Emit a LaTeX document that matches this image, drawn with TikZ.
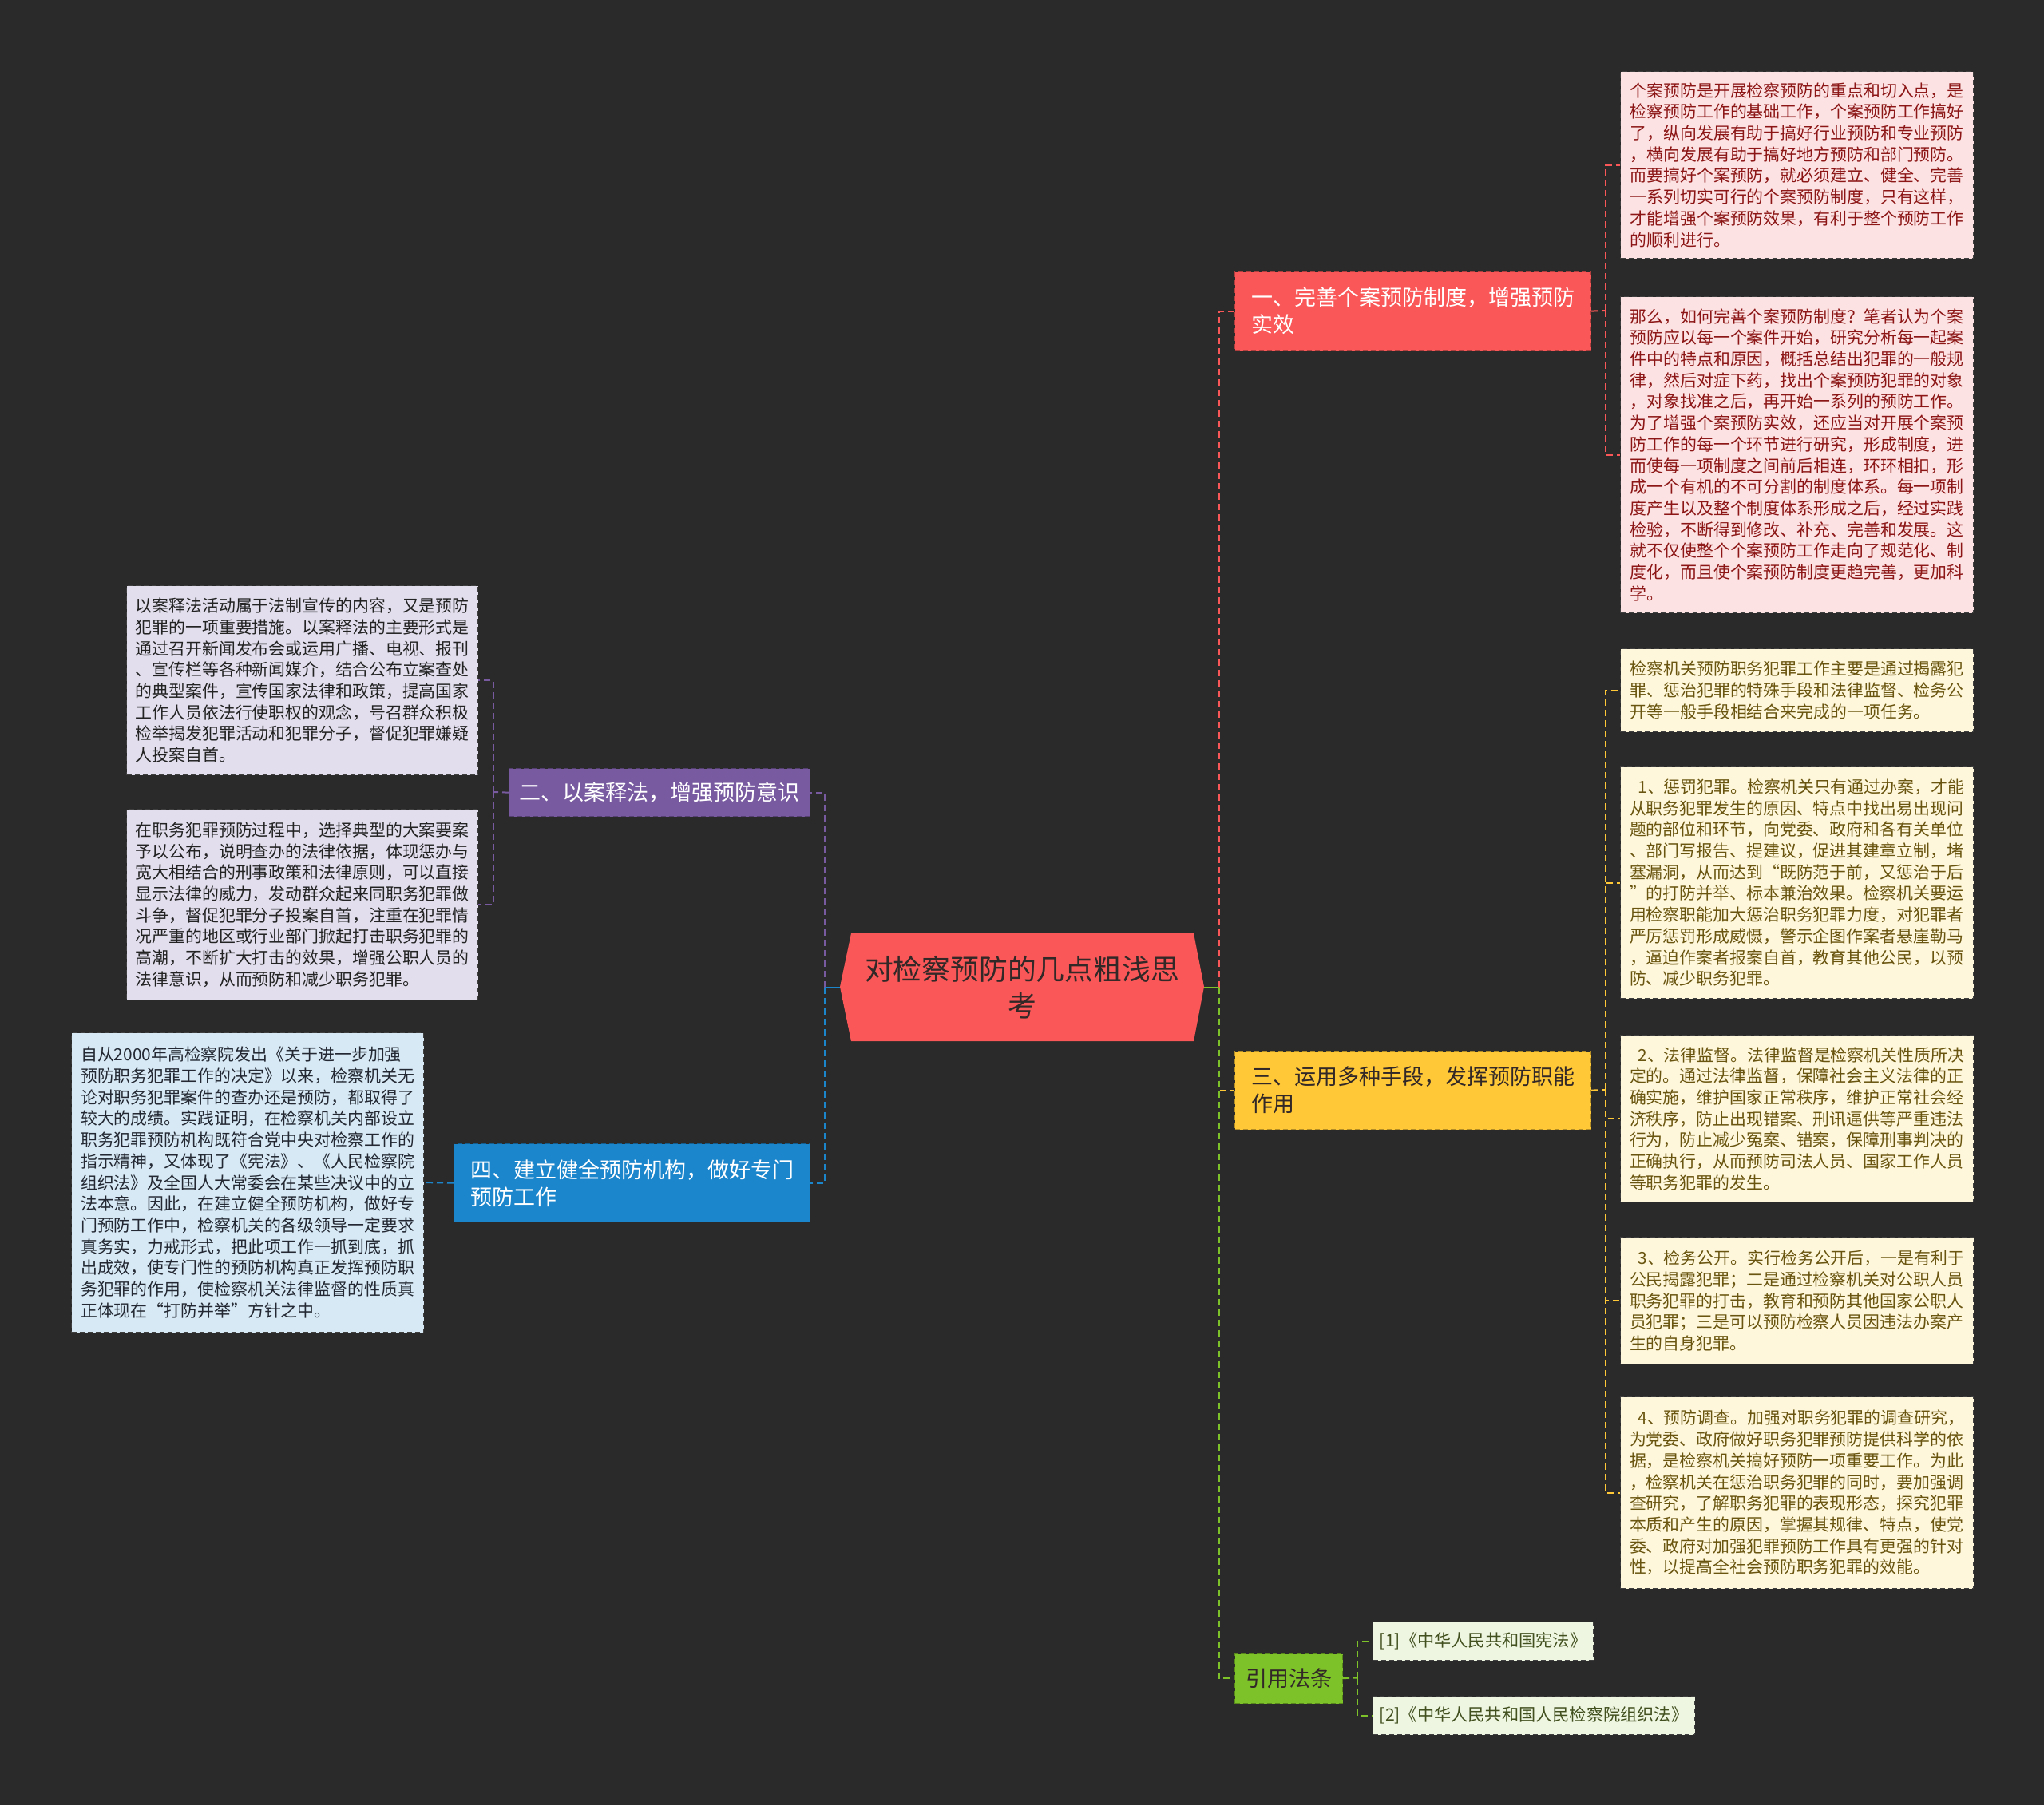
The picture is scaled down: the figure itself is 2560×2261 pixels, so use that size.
\documentclass[tikz,border=0pt]{standalone}
\usepackage{fontspec}
\setmainfont{Noto Sans CJK SC}
\definecolor{bg}{RGB}{42,42,42}
\definecolor{cred}{RGB}{250,88,88}
\definecolor{cpurple}{RGB}{120,90,160}
\definecolor{cyellow}{RGB}{255,200,55}
\definecolor{cblue}{RGB}{28,134,204}
\definecolor{cgreen}{RGB}{125,194,40}
\definecolor{pinkfill}{RGB}{253,226,227}
\definecolor{pinktext}{RGB}{140,22,22}
\definecolor{creamfill}{RGB}{255,247,219}
\definecolor{creamtext}{RGB}{105,85,15}
\definecolor{lavfill}{RGB}{226,222,237}
\definecolor{lavtext}{RGB}{35,35,35}
\definecolor{bluefill}{RGB}{214,233,245}
\definecolor{bluetext}{RGB}{35,40,50}
\definecolor{reffill}{RGB}{238,245,225}
\definecolor{reftext}{RGB}{65,80,30}
\definecolor{darktext}{RGB}{50,40,40}
\begin{document}
\begin{tikzpicture}[x=0.5pt,y=-0.5pt,
  leaf/.style={anchor=north west, inner sep=0pt, align=left, draw=black!75,
    dash pattern=on 3pt off 2pt, line width=0.6pt,
    font=\fontsize{10.45}{13.35}\selectfont, minimum width=221pt},
  pinkbox/.style={leaf, fill=pinkfill, text=pinktext},
  creambox/.style={leaf, fill=creamfill, text=creamtext},
  lavbox/.style={leaf, fill=lavfill, text=lavtext, minimum width=220pt},
  bluebox/.style={leaf, fill=bluefill, text=bluetext, minimum width=220.5pt},
  refbox/.style={anchor=north west, inner sep=0pt, align=left, draw=black!75,
    dash pattern=on 3pt off 2pt, line width=0.6pt, fill=reffill, text=reftext,
    font=\fontsize{10.6}{13}\selectfont},
  branch/.style={anchor=north west, inner sep=0pt, align=left,
    dash pattern=on 3pt off 2pt, line width=0.6pt,
    font=\fontsize{13.5}{17}\selectfont, minimum width=223pt, minimum height=49pt},
  link/.style={line width=1pt, dash pattern=on 4pt off 2.5pt},
  stub/.style={line width=1pt}
]
\fill[bg] (0,0) rectangle (2560,2261);

% central topic
\fill[cred] (1052,1236) -- (1066,1169) -- (1495,1169) -- (1508,1236) -- (1495,1304) -- (1066,1304) -- cycle;
\node[inner sep=0pt, minimum width=228pt, minimum height=67.5pt, align=center,
  text=darktext, font=\fontsize{17.9}{23.3}\selectfont] (c) at (1280,1236.5)
  {对检察预防的几点粗浅思\\考};

% main branches
\node[branch, fill=cred, draw=cred!70!black, text=white] (b1) at (1546,340)
  {一、完善个案预防制度，增强预防\\实效};
\node[branch, fill=cpurple, draw=cpurple!70!black, text=white, minimum width=188.5pt, minimum height=30pt] (b2) at (637,962)
  {二、以案释法，增强预防意识};
\node[branch, fill=cyellow, draw=cyellow!70!black, text=darktext] (b3) at (1546,1316)
  {三、运用多种手段，发挥预防职能\\作用};
\node[branch, fill=cblue, draw=cblue!70!black, text=white] (b4) at (568,1432)
  {四、建立健全预防机构，做好专门\\预防工作};
\node[branch, fill=cgreen, draw=cgreen!70!black, text=darktext, minimum width=67.5pt, minimum height=31.5pt] (b5) at (1546,2070)
  {引用法条};

% right leaves (branch 1)
\node[pinkbox, minimum height=117pt] (r1) at (2029,89)
  {个案预防是开展检察预防的重点和切入点，是\\%
检察预防工作的基础工作，个案预防工作搞好\\%
了，纵向发展有助于搞好行业预防和专业预防\\%
，横向发展有助于搞好地方预防和部门预防。\\%
而要搞好个案预防，就必须建立、健全、完善\\%
一系列切实可行的个案预防制度，只有这样，\\%
才能增强个案预防效果，有利于整个预防工作\\%
的顺利进行。};
\node[pinkbox, minimum height=198pt] (r2) at (2029,371)
  {那么，如何完善个案预防制度？笔者认为个案\\%
预防应以每一个案件开始，研究分析每一起案\\%
件中的特点和原因，概括总结出犯罪的一般规\\%
律，然后对症下药，找出个案预防犯罪的对象\\%
，对象找准之后，再开始一系列的预防工作。\\%
为了增强个案预防实效，还应当对开展个案预\\%
防工作的每一个环节进行研究，形成制度，进\\%
而使每一项制度之间前后相连，环环相扣，形\\%
成一个有机的不可分割的制度体系。每一项制\\%
度产生以及整个制度体系形成之后，经过实践\\%
检验，不断得到修改、补充、完善和发展。这\\%
就不仅使整个个案预防工作走向了规范化、制\\%
度化，而且使个案预防制度更趋完善，更加科\\%
学。};

% right leaves (branch 3)
\node[creambox, minimum height=52pt] (r3) at (2029,812)
  {检察机关预防职务犯罪工作主要是通过揭露犯\\%
罪、惩治犯罪的特殊手段和法律监督、检务公\\%
开等一般手段相结合来完成的一项任务。};
\node[creambox, minimum height=145pt] (r4) at (2029,960)
  {\hspace*{0.5em}1、惩罚犯罪。检察机关只有通过办案，才能\\%
从职务犯罪发生的原因、特点中找出易出现问\\%
题的部位和环节，向党委、政府和各有关单位\\%
、部门写报告、提建议，促进其建章立制，堵\\%
塞漏洞，从而达到“既防范于前，又惩治于后\\%
”的打防并举、标本兼治效果。检察机关要运\\%
用检察职能加大惩治职务犯罪力度，对犯罪者\\%
严厉惩罚形成威慑，警示企图作案者悬崖勒马\\%
，逼迫作案者报案自首，教育其他公民，以预\\%
防、减少职务犯罪。};
\node[creambox, minimum height=104.5pt] (r5) at (2029,1296)
  {\hspace*{0.5em}2、法律监督。法律监督是检察机关性质所决\\%
定的。通过法律监督，保障社会主义法律的正\\%
确实施，维护国家正常秩序，维护正常社会经\\%
济秩序，防止出现错案、刑讯逼供等严重违法\\%
行为，防止减少冤案、错案，保障刑事判决的\\%
正确执行，从而预防司法人员、国家工作人员\\%
等职务犯罪的发生。};
\node[creambox, minimum height=79.5pt] (r6) at (2029,1549)
  {\hspace*{0.5em}3、检务公开。实行检务公开后，一是有利于\\%
公民揭露犯罪；二是通过检察机关对公职人员\\%
职务犯罪的打击，教育和预防其他国家公职人\\%
员犯罪；三是可以预防检察人员因违法办案产\\%
生的自身犯罪。};
\node[creambox, minimum height=120pt] (r7) at (2029,1749)
  {\hspace*{0.5em}4、预防调查。加强对职务犯罪的调查研究，\\%
为党委、政府做好职务犯罪预防提供科学的依\\%
据，是检察机关搞好预防一项重要工作。为此\\%
，检察机关在惩治职务犯罪的同时，要加强调\\%
查研究，了解职务犯罪的表现形态，探究犯罪\\%
本质和产生的原因，掌握其规律、特点，使党\\%
委、政府对加强犯罪预防工作具有更强的针对\\%
性，以提高全社会预防职务犯罪的效能。};

% left leaves (branch 2)
\node[lavbox, minimum height=118.5pt] (l1) at (158,733)
  {以案释法活动属于法制宣传的内容，又是预防\\%
犯罪的一项重要措施。以案释法的主要形式是\\%
通过召开新闻发布会或运用广播、电视、报刊\\%
、宣传栏等各种新闻媒介，结合公布立案查处\\%
的典型案件，宣传国家法律和政策，提高国家\\%
工作人员依法行使职权的观念，号召群众积极\\%
检举揭发犯罪活动和犯罪分子，督促犯罪嫌疑\\%
人投案自首。};
\node[lavbox, minimum height=119.5pt] (l2) at (158,1013)
  {在职务犯罪预防过程中，选择典型的大案要案\\%
予以公布，说明查办的法律依据，体现惩办与\\%
宽大相结合的刑事政策和法律原则，可以直接\\%
显示法律的威力，发动群众起来同职务犯罪做\\%
斗争，督促犯罪分子投案自首，注重在犯罪情\\%
况严重的地区或行业部门掀起打击职务犯罪的\\%
高潮，不断扩大打击的效果，增强公职人员的\\%
法律意识，从而预防和减少职务犯罪。};

% left leaf (branch 4)
\node[bluebox, minimum height=187.5pt] (l3) at (89,1293)
  {自从2000年高检察院发出《关于进一步加强\\%
预防职务犯罪工作的决定》以来，检察机关无\\%
论对职务犯罪案件的查办还是预防，都取得了\\%
较大的成绩。实践证明，在检察机关内部设立\\%
职务犯罪预防机构既符合党中央对检察工作的\\%
指示精神，又体现了《宪法》、《人民检察院\\%
组织法》及全国人大常委会在某些决议中的立\\%
法本意。因此，在建立健全预防机构，做好专\\%
门预防工作中，检察机关的各级领导一定要求\\%
真务实，力戒形式，把此项工作一抓到底，抓\\%
出成效，使专门性的预防机构真正发挥预防职\\%
务犯罪的作用，使检察机关法律监督的性质真\\%
正体现在“打防并举”方针之中。};

% references (branch 5)
\node[refbox, minimum width=138pt, minimum height=24pt] (f1) at (1719,2031)
  {[1]《中华人民共和国宪法》};
\node[refbox, minimum width=201.5pt, minimum height=24pt] (f2) at (1719,2124)
  {[2]《中华人民共和国人民检察院组织法》};

% junction coordinates
\coordinate (cR) at (1527,1236.5);
\coordinate (cL) at (1033,1236.5);
\coordinate (j1) at (2011,389);
\coordinate (j3) at (2011,1365);
\coordinate (j2) at (617.5,992);
\coordinate (j5) at (1700,2101.5);

% connectors: center -> branches
\draw[stub, cred] (c.east) -- (cR);
\draw[link, cred] (cR) |- (b1.west);
\draw[stub, cyellow] (c.east) -- (cR);
\draw[link, cyellow] (cR) |- (b3.west);
\draw[stub, cgreen] (c.east) -- (cR);
\draw[link, cgreen] (cR) |- (b5.west);
\draw[stub, cpurple] (c.west) -- (cL);
\draw[link, cpurple] (cL) |- (b2.east);
\draw[stub, cblue] (c.west) -- (cL);
\draw[link, cblue] (cL) |- (b4.east);

% branch 1 -> leaves
\draw[link, cred] (b1.east) -- (j1);
\draw[link, cred] (j1) |- (r1.west);
\draw[link, cred] (j1) |- (r2.west);
% branch 3 -> leaves
\draw[link, cyellow] (b3.east) -- (j3);
\draw[link, cyellow] (j3) |- (r3.west);
\draw[link, cyellow] (j3) |- (r4.west);
\draw[link, cyellow] (j3) |- (r5.west);
\draw[link, cyellow] (j3) |- (r6.west);
\draw[link, cyellow] (j3) |- (r7.west);
% branch 2 -> leaves
\draw[link, cpurple] (b2.west) -- (j2);
\draw[link, cpurple] (j2) |- (l1.east);
\draw[link, cpurple] (j2) |- (l2.east);
% branch 4 -> leaf
\draw[link, cblue] (b4.west) -- (l3.east);
% branch 5 -> refs
\draw[link, cgreen] (b5.east) -- (j5);
\draw[link, cgreen] (j5) |- (f1.west);
\draw[link, cgreen] (j5) |- (f2.west);
\end{tikzpicture}
\end{document}
